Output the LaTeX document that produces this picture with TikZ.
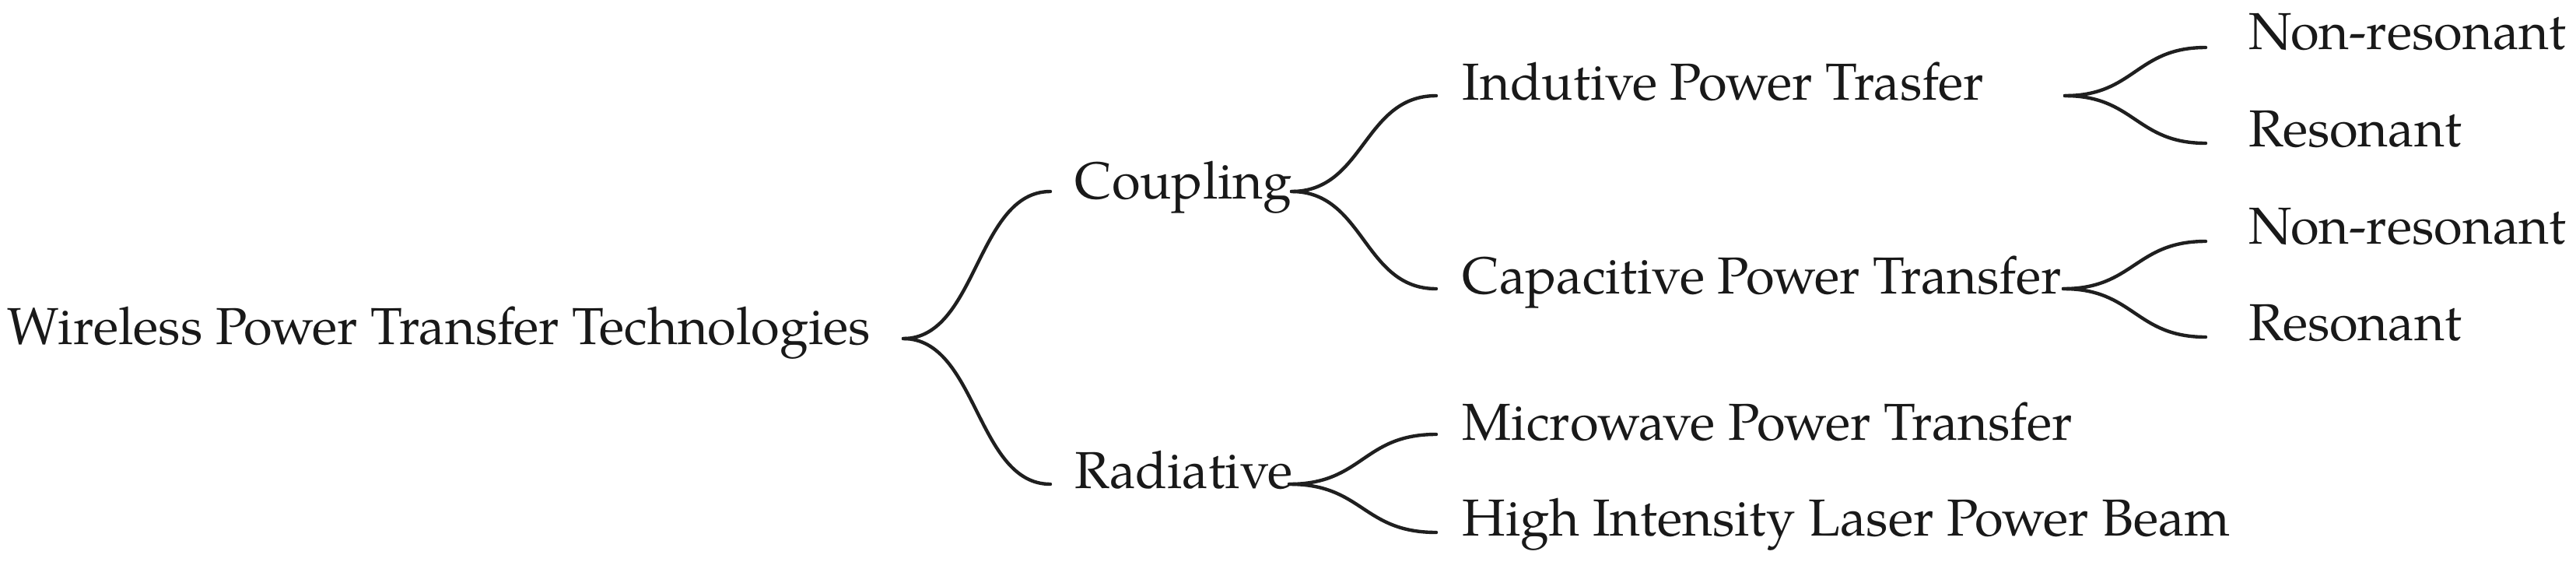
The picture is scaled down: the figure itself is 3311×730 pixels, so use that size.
\documentclass[tikz,border=0pt]{standalone}
\usepackage{fontspec}
\setmainfont{TeX Gyre Pagella}
\begin{document}
\begin{tikzpicture}[x=0.01cm,y=-0.01cm,
  lbl/.style={anchor=base west,inner sep=0pt,font=\fontsize{19}{23}\selectfont,text=black!90},
  conn/.style={draw=black!88,line width=1.25pt,line cap=round}]
\useasboundingbox (0,0) rectangle (3311,730);
% nodes
\node[lbl] (root) at (9,442) {Wireless Power Transfer Technologies};
\node[lbl] (coup) at (1381,255) {Coupling};
\node[lbl] (rad) at (1381,627) {Radiative};
\node[lbl] (ind) at (1879,128) {Indutive Power Trasfer};
\node[lbl] (cap) at (1879,377) {Capacitive Power Transfer};
\node[lbl] (mic) at (1879,565) {Microwave Power Transfer};
\node[lbl] (las) at (1879,688) {High Intensity Laser Power Beam};
\node[lbl] (nr1) at (2890,63) {Non-resonant};
\node[lbl] (r1) at (2890,188) {Resonant};
\node[lbl] (nr2) at (2890,313) {Non-resonant};
\node[lbl] (r2) at (2890,437) {Resonant};
% attachment points
\coordinate (root-o) at (1161,435);
\coordinate (coup-i) at (1350,246);
\coordinate (coup-o) at (1660,246);
\coordinate (rad-i) at (1350,622);
\coordinate (rad-o) at (1657,622);
\coordinate (ind-i) at (1846,123);
\coordinate (ind-o) at (2654,123);
\coordinate (cap-i) at (1846,371);
\coordinate (cap-o) at (2652,371);
\coordinate (mic-i) at (1846,558);
\coordinate (las-i) at (1846,684);
\coordinate (nr1-i) at (2835,61);
\coordinate (r1-i) at (2835,184);
\coordinate (nr2-i) at (2835,310);
\coordinate (r2-i) at (2835,433);
% connectors
\draw[conn] (root-o) .. controls +(95,0) and +(-95,0) .. (coup-i);
\draw[conn] (root-o) .. controls +(95,0) and +(-95,0) .. (rad-i);
\draw[conn] (coup-o) .. controls +(94,0) and +(-94,0) .. (ind-i);
\draw[conn] (coup-o) .. controls +(94,0) and +(-94,0) .. (cap-i);
\draw[conn] (rad-o) .. controls +(95,0) and +(-95,0) .. (mic-i);
\draw[conn] (rad-o) .. controls +(95,0) and +(-95,0) .. (las-i);
\draw[conn] (ind-o) .. controls +(90,0) and +(-90,0) .. (nr1-i);
\draw[conn] (ind-o) .. controls +(90,0) and +(-90,0) .. (r1-i);
\draw[conn] (cap-o) .. controls +(91,0) and +(-91,0) .. (nr2-i);
\draw[conn] (cap-o) .. controls +(91,0) and +(-91,0) .. (r2-i);
\end{tikzpicture}
\end{document}
